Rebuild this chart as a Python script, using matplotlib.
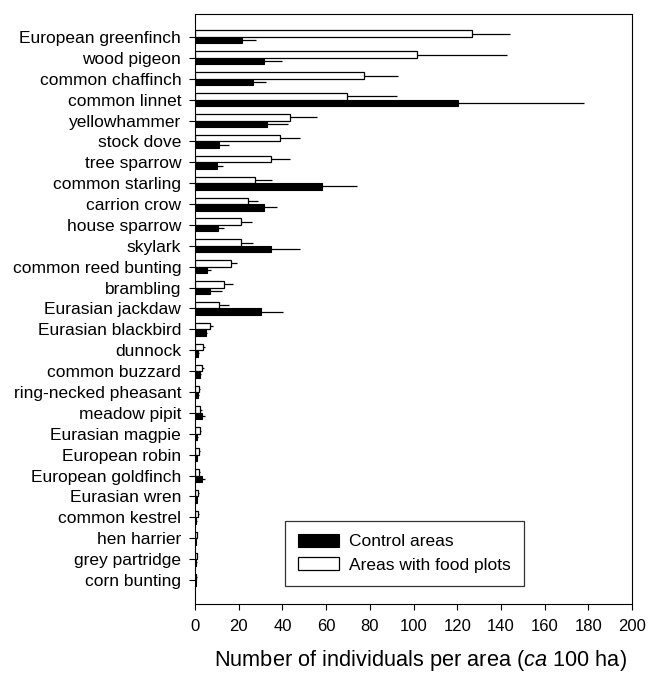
import numpy as np
import matplotlib
matplotlib.use("Agg")
import matplotlib.pyplot as plt

plt.rcParams['font.family'] = ['Liberation Sans', 'DejaVu Sans']
plt.rcParams['mathtext.fontset'] = 'custom'
plt.rcParams['mathtext.rm'] = 'Liberation Sans'
plt.rcParams['mathtext.it'] = 'Liberation Sans:italic'

# Especies (de arriba abajo)
species = ["European greenfinch", "wood pigeon", "common chaffinch", "common linnet",
           "yellowhammer", "stock dove", "tree sparrow", "common starling",
           "carrion crow", "house sparrow", "skylark", "common reed bunting",
           "brambling", "Eurasian jackdaw", "Eurasian blackbird", "dunnock",
           "common buzzard", "ring-necked pheasant", "meadow pipit", "Eurasian magpie",
           "European robin", "European goldfinch", "Eurasian wren", "common kestrel",
           "hen harrier", "grey partridge", "corn bunting"]

# Areas with food plots (media y extremo superior del error)
food_mean = [126.6, 101.4, 77.3, 69.4, 43.3, 38.9, 34.8, 27.3, 24.1, 21.1, 20.9, 16.5,
             13.1, 10.8, 7.0, 3.8, 3.4, 2.0, 2.3, 2.3, 1.8, 1.8, 1.5, 1.2, 0.8, 0.8, 0.5]
food_top = [144.0, 142.6, 92.7, 92.3, 55.7, 48.2, 43.3, 35.2, 28.7, 26.2, 26.7, 19.2,
            17.2, 15.4, 8.4, 4.4, 4.1, 2.5, 3.4, 2.8, 2.3, 2.5, 2.0, 1.6, 1.1, 1.1, 0.8]

# Control areas
ctrl_mean = [21.4, 31.6, 26.5, 120.2, 33.1, 11.1, 9.9, 58.3, 31.7, 10.7, 34.6, 5.3,
             6.7, 30.2, 5.0, 1.5, 2.3, 1.5, 3.0, 1.0, 0.8, 3.4, 0.8, 0.6, 0.3, 0.5, 0.3]
ctrl_top = [28.0, 40.0, 32.5, 178.0, 42.7, 15.7, 12.7, 74.3, 37.4, 13.1, 47.9, 7.3,
            12.2, 40.3, 5.6, 2.0, 2.8, 2.0, 4.6, 1.4, 1.1, 4.6, 1.1, 0.9, 0.5, 0.7, 0.5]

xticks = list(range(0, 201, 20))

y = np.arange(len(species))
h = 0.31
food_err = np.array(food_top) - np.array(food_mean)
ctrl_err = np.array(ctrl_top) - np.array(ctrl_mean)

fig = plt.figure(figsize=(6.49, 6.76), dpi=100)
ax = fig.add_axes([0.3005, 0.1065, 0.6733, 0.8728])

ekw = dict(ecolor='black', elinewidth=0.9, capsize=0)
ax.barh(y + h / 2, ctrl_mean, height=h, color='black', edgecolor='black', lw=0.8,
        xerr=[np.zeros(len(y)), ctrl_err], error_kw=ekw, label='Control areas')
ax.barh(y - h / 2, food_mean, height=h, color='white', edgecolor='black', lw=0.9,
        xerr=[np.zeros(len(y)), food_err], error_kw=ekw, label='Areas with food plots')

ax.set_yticks(y)
ax.set_yticklabels(species, fontsize=12.5)
ax.set_ylim(len(species) - 1 + 1.15, -1.1)
ax.set_xlim(0, 200)
ax.set_xticks(xticks)
ax.set_xticklabels([str(t) for t in xticks], fontsize=12)
ax.tick_params(axis='both', direction='out', length=4, width=0.8)
ax.tick_params(axis='y', pad=6)
ax.tick_params(axis='x', pad=7)
ax.set_xlabel('Number of individuals per area ($\\it{ca}$ 100 ha)', fontsize=15.7, labelpad=12)
ax.xaxis.set_label_coords(0.517, -0.075)

leg = ax.legend(loc='lower left', bbox_to_anchor=(0.206, 0.031), borderaxespad=0,
                fontsize=12.5, frameon=True, fancybox=False, edgecolor='black',
                handlelength=2.36, handleheight=0.75, handletextpad=0.57,
                borderpad=0.75, labelspacing=0.45)
leg.get_frame().set_linewidth(0.9)

plt.savefig('out.png', dpi=100)
